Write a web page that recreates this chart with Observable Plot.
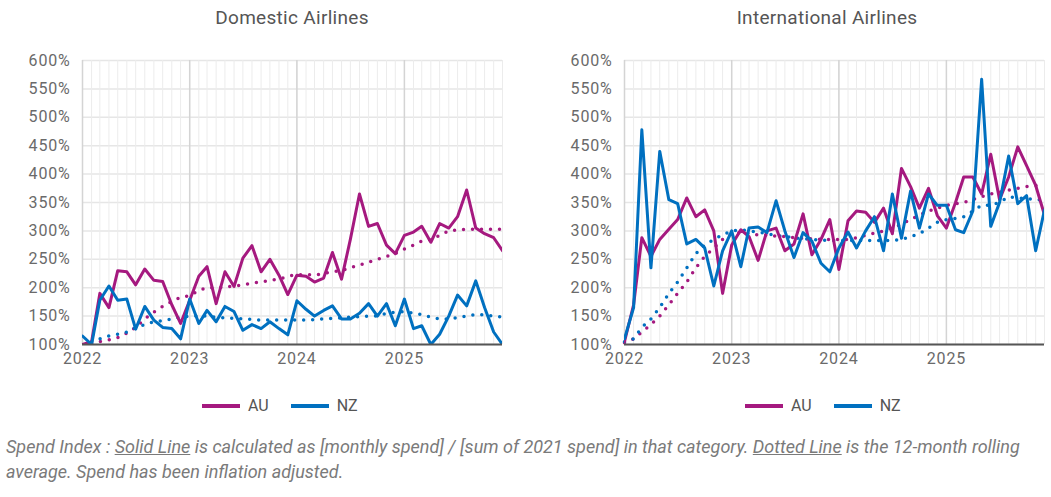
<!DOCTYPE html>
<html><head><meta charset="utf-8">
<script src="https://cdn.jsdelivr.net/npm/d3@7"></script>
<script src="https://cdn.jsdelivr.net/npm/@observablehq/plot@0.6"></script>
<style>
body{margin:0;background:#fff;font-family:Roboto,"DejaVu Sans",sans-serif;}
#wrap{position:relative;width:1051px;height:497px;}
.t{position:absolute;top:6px;font-size:19px;color:#555;text-align:center;letter-spacing:0.3px;}
.p{position:absolute;top:32px;}
.lg{position:absolute;top:396px;font-size:16px;color:#555;display:flex;align-items:center;gap:8px;}
.sw{display:inline-block;width:38px;height:4px;}
.cap{position:absolute;left:6px;top:434px;font-size:18px;font-style:italic;color:#7a7a7a;line-height:25px;width:1040px;}
.cap u{text-decoration:underline;}
</style></head><body>
<div id="wrap">
<div class="t" style="left:82px;width:420px">Domestic Airlines</div>
<div class="t" style="left:612px;width:430px">International Airlines</div>
<div class="p" id="c1" style="left:0"></div>
<div class="p" id="c2" style="left:525px"></div>
<div class="lg" style="left:202px"><span class="sw" style="background:#a5197f"></span>AU<span style="width:6px"></span><span class="sw" style="background:#0070c0"></span>NZ</div>
<div class="lg" style="left:745px"><span class="sw" style="background:#a5197f"></span>AU<span style="width:6px"></span><span class="sw" style="background:#0070c0"></span>NZ</div>
<div class="cap">Spend Index : <u>Solid Line</u> is calculated as [monthly spend] / [sum of 2021 spend] in that category. <u>Dotted Line</u> is the 12-month rolling average. Spend has been inflation adjusted.</div>
</div>
<script>
const months = d3.utcMonths(new Date(Date.UTC(2022,0,1)), new Date(Date.UTC(2026,0,1)));
const yearTicks = [2022,2023,2024,2025];
const yTicks = [100,150,200,250,300,350,400,450,500,550,600];

const domAU = [100,105,190,165,230,228,205,233,213,211,170,137, 178,220,237,172,228,202,252,274,228,250,222,188, 222,220,210,217,262,215,285,365,308,313,275,260, 292,298,308,280,313,305,325,372,305,295,288,265];
const domAUavg = [null,102,105,108,112,120,130,145,157,167,176,183, 186,195,200,200,201,203,205,208,210,213,215,220, 223,223,222,225,228,230,235,240,245,250,255,260, 268,275,282,285,292,300,302,303,303,303,303,303];
const domNZ = [115,100,178,203,178,180,127,167,143,130,128,110, 180,137,160,140,167,158,125,135,128,140,128,117, 177,162,150,160,168,145,145,155,172,150,172,133, 180,128,133,100,118,150,187,168,212,165,122,100];
const domNZavg = [null,105,110,115,118,122,130,135,140,142,145,148, 150,150,150,148,147,146,145,144,143,143,143,143, 143,143,144,145,146,147,148,149,150,150,155,157, 158,155,153,148,145,145,147,150,153,152,150,148];

const intAU = [105,170,288,255,285,303,320,358,325,337,300,190, 275,302,290,248,300,305,265,277,330,258,285,320, 232,318,335,333,315,340,295,410,378,340,375,327, 305,350,395,395,365,435,355,395,448,415,380,328];
const intAUavg = [103,110,122,135,150,170,190,210,235,255,270,285, 295,297,295,293,292,291,290,288,287,286,285,285, 285,285,288,292,296,300,305,312,320,328,335,340, 345,348,350,355,360,365,368,372,375,378,380,382];
const intNZ = [110,165,478,235,440,355,348,277,285,270,203,265, 300,237,305,307,297,353,300,253,297,282,243,228, 270,298,270,300,325,265,365,287,370,305,365,345, 345,302,297,335,567,308,350,432,348,362,265,337];
const intNZavg = [105,110,130,145,165,190,210,235,260,275,285,293, 300,302,300,298,295,292,290,288,286,285,284,283, 283,283,283,283,283,283,283,285,290,295,305,315, 320,322,325,335,345,345,350,360,358,357,355,355];

const AU="#a5197f", NZ="#0070c0";
function chart(au, auAvg, nz, nzAvg, ml, mr){
  const rows = (arr)=>arr.map((v,i)=>({d:months[i], v})).filter(r=>r.v!=null);
  const yrs = yearTicks.map(y=>new Date(Date.UTC(y,0,1)));
  return Plot.plot({
    width:525, height:338, marginLeft:ml, marginRight:mr, marginTop:28, marginBottom:26,
    style:{fontFamily:"Roboto, sans-serif", fontSize:"16px", color:"#6a6a6a", letterSpacing:"0.8px"},
    x:{type:"utc", domain:[months[0], months[47]], ticks:yrs, tickFormat:d3.utcFormat("%Y"), label:null, tickSize:0, tickPadding:8},
    y:{domain:[100,600], ticks:yTicks, tickFormat:d=>d+"%", label:null, tickSize:0, tickPadding:12},
    marks:[
      Plot.ruleY(yTicks,{stroke:"#e6e6e6",strokeWidth:1.5}),
      Plot.ruleX(months,{stroke:"#ececec",strokeWidth:1}),
      Plot.ruleX(yrs,{stroke:"#d4d4d4",strokeWidth:1.5}),
      Plot.line(rows(auAvg),{x:"d",y:"v",stroke:AU,strokeWidth:3.5,strokeDasharray:"0 9",strokeLinecap:"round"}),
      Plot.line(rows(nzAvg),{x:"d",y:"v",stroke:NZ,strokeWidth:3.5,strokeDasharray:"0 9",strokeLinecap:"round"}),
      Plot.line(rows(au),{x:"d",y:"v",stroke:AU,strokeWidth:3,clip:true}),
      Plot.line(rows(nz),{x:"d",y:"v",stroke:NZ,strokeWidth:3,clip:true}),
      Plot.ruleY([100],{stroke:"#555",strokeWidth:2})
    ]
  });
}
document.getElementById("c1").append(chart(domAU,domAUavg,domNZ,domNZavg,82,23));
document.getElementById("c2").append(chart(intAU,intAUavg,intNZ,intNZavg,99,6));
</script>
</body></html>
